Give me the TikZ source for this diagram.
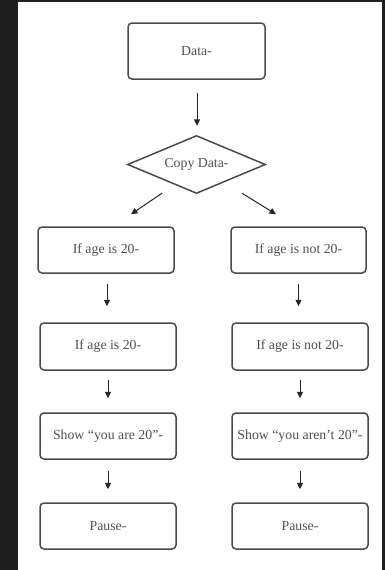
\documentclass[tikz,border=0pt]{standalone}
\usepackage{fontspec}
\setmainfont{Liberation Serif}
\usetikzlibrary{arrows.meta,calc}
\definecolor{bgdark}{HTML}{1F1F1F}
\definecolor{ink}{HTML}{4A4A4A}
\definecolor{txt}{HTML}{505050}
\tikzset{
  box/.style={draw=ink, line width=1.5pt, rounded corners=4pt, fill=white, text=txt,
    font=\fontsize{13.8}{15}\selectfont, inner sep=0pt},
  decis/.style={inner sep=0pt, text=txt, minimum width=137pt, minimum height=57pt,
    font=\fontsize{13.8}{15}\selectfont},
  decisline/.style={draw=ink, line width=1.5pt, line join=miter},
  arr/.style={draw=black!85, line width=1pt, -{Triangle[length=6.5pt,width=6pt]}}
}
\begin{document}
\begin{tikzpicture}[x=1pt,y=-1pt]
\useasboundingbox (0,0) rectangle (385,570);
\fill[bgdark] (0,0) rectangle (385,570);
\fill[white] (18,2) rectangle (382,570);

\node[box, minimum width=137pt, minimum height=56pt] (data) at (196.5,51) {Data-};
\node[decis] (copy) at (196.5,164.5) {};
\draw[decisline] (copy.west) -- (copy.north) -- (copy.east) -- (copy.south) -- cycle;
\node[decis] at (copy.center) {Copy Data-};

\node[box, minimum width=136pt, minimum height=46pt] (l1) at (106,250) {If age is 20-};
\node[box, minimum width=135pt, minimum height=46pt] (r1) at (298.5,250) {If age is not 20-};
\node[box, minimum width=136pt, minimum height=47pt] (l2) at (108,346.5) {If age is 20-};
\node[box, minimum width=136pt, minimum height=47pt] (r2) at (300,346.5) {If age is not 20-};
\node[box, minimum width=136pt, minimum height=46pt] (l3) at (108,436) {Show “you are 20”-};
\node[box, minimum width=136pt, minimum height=46pt] (r3) at (300,436) {Show “you aren’t 20”-};
\node[box, minimum width=136pt, minimum height=46pt] (l4) at (108,526) {Pause-};
\node[box, minimum width=136pt, minimum height=46pt] (r4) at (300,526) {Pause-};

\draw[arr] ($(data.south)+(0.5,13)$) -- ($(copy.north)+(0.5,-10)$);
\draw[arr] ($(copy.south)+(-34.5,0)$) -- ($(l1.north)+(25,-12)$);
\draw[arr] ($(copy.south)+(45.5,0)$) -- ($(r1.north)+(-22.5,-12)$);

\draw[arr] ($(l1.south)+(1,10)$) -- ($(l2.north)+(-1,-16)$);
\draw[arr] ($(r1.south)+(0,10)$) -- ($(r2.north)+(-1.5,-16)$);
\draw[arr] ($(l2.south)+(0,9)$) -- ($(l3.north)+(0,-14)$);
\draw[arr] ($(r2.south)+(0,9)$) -- ($(r3.north)+(0,-14)$);
\draw[arr] ($(l3.south)+(0,11)$) -- ($(l4.north)+(0,-13)$);
\draw[arr] ($(r3.south)+(0,11)$) -- ($(r4.north)+(0,-13)$);
\end{tikzpicture}
\end{document}
